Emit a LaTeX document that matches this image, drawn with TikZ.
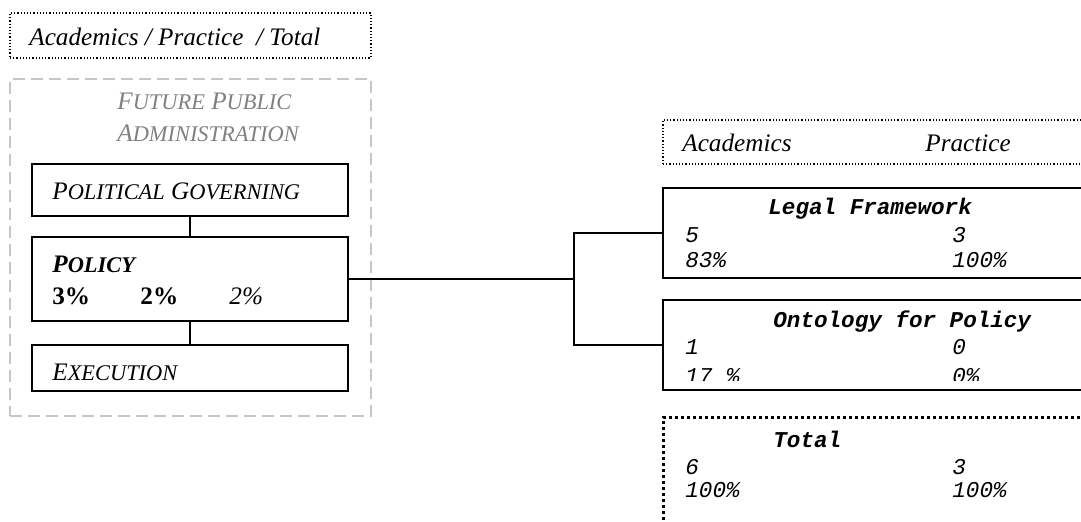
\documentclass[tikz,border=0pt]{standalone}
\usepackage{fontspec}
\setmainfont{Liberation Serif}
\setmonofont{Liberation Mono}
\usepackage{tikz}
\usetikzlibrary{fit,positioning}

% fake small caps: big first letter, smaller rest
\newcommand{\fsc}[2]{#1{\fontsize{11.2}{13}\selectfont #2}}

\begin{document}
\begin{tikzpicture}[x=0.5pt, y=-0.5pt,
    every node/.style={font=\fontsize{12.6}{15}\selectfont},
    box/.style={draw, line width=1pt, inner sep=0pt},
    dotbox/.style={draw, densely dotted, line width=0.6pt, inner sep=0pt},
    lbl/.style={anchor=base west, inner sep=0pt},
    mono/.style={lbl, font=\fontsize{11.3}{14}\selectfont\ttfamily\itshape},
    monotitle/.style={lbl, font=\fontsize{11.3}{14}\selectfont\ttfamily\bfseries\itshape},
    link/.style={line width=0.75pt}]
  \clip (0,0) rectangle (1081,522);

  % legend and frame on the left
  \node (legend) [dotbox, fit={(10,13) (371,58)}] {};
  \node (legendtxt) [lbl] at (29,46) {\itshape Academics / Practice~ / Total};
  \node (fpa) [draw=gray!45, dash pattern=on 6pt off 3pt, line width=0.75pt, inner sep=0pt, fit={(10,79) (371,416)}] {};
  \node (fpa1) [lbl, text=gray] at (117,110) {\itshape\fsc{F}{UTURE} \fsc{P}{UBLIC}};
  \node (fpa2) [lbl, text=gray] at (117,142) {\itshape\fsc{A}{DMINISTRATION}};

  % the three layers
  \node (pg) [box, fit={(32,164) (348,216)}] {};
  \node (pgtxt) [lbl] at (52,200) {\itshape\fsc{P}{OLITICAL} \fsc{G}{OVERNING}};
  \node (pol) [box, fit={(32,237) (348,321)}] {};
  \node (poltxt) [lbl] at (52,273) {\bfseries\itshape\fsc{P}{OLICY}};
  \node (polA) [lbl] at (52,305) {\bfseries 3\%};
  \node (polP) [lbl] at (140,305) {\bfseries 2\%};
  \node (polT) [lbl] at (229,305) {\itshape 2\%};
  \node (exe) [box, fit={(32,345) (348,391)}] {};
  \node (exetxt) [lbl] at (52,381) {\itshape\fsc{E}{XECUTION}};

  \draw[link] (pg.south) -- (pol.north);
  \draw[link] (pol.south) -- (exe.north);

  % right hand side
  \node (head) [dotbox, fit={(663,120) (1090,164)}] {};
  \node (headA) [lbl] at (682,152) {\itshape Academics};
  \node (headP) [lbl] at (925,152) {\itshape Practice};

  \node (legal) [box, fit={(663,188) (1083,278)}] {};
  \node (legaltxt) [monotitle] at (768,215) {Legal Framework};
  \node (legalA1) [mono] at (685,243) {5};
  \node (legalP1) [mono] at (952,243) {3};
  \node (legalA2) [mono] at (685,268) {83\%};
  \node (legalP2) [mono] at (952,268) {100\%};

  \node (onto) [box, fit={(663,300) (1083,390)}] {};
  \node (ontotxt) [monotitle] at (773,328) {Ontology for Policy};
  \node (ontoA1) [mono] at (685,355) {1};
  \node (ontoP1) [mono] at (952,355) {0};
  \begin{scope}
    \clip (663,300) rectangle (1083,381);
    \node (ontoA2) [mono] at (685,384) {17 \%};
    \node (ontoP2) [mono] at (952,384) {0\%};
  \end{scope}

  \node (total) [draw, line width=1.5pt, dash pattern=on 1.5pt off 1.5pt, inner sep=0pt, fit={(663,418) (1095,535)}] {};
  \node (totaltxt) [monotitle] at (773,448) {Total};
  \node (totalA1) [mono] at (685,475) {6};
  \node (totalP1) [mono] at (952,475) {3};
  \node (totalA2) [mono] at (685,498) {100\%};
  \node (totalP2) [mono] at (952,498) {100\%};

  % connectors
  \path (pol.east) ++(225,0) coordinate (split);
  \draw[link] (pol.east) -- (split);
  \draw[link] (legal.west) -| (split) |- (onto.west);
\end{tikzpicture}
\end{document}
